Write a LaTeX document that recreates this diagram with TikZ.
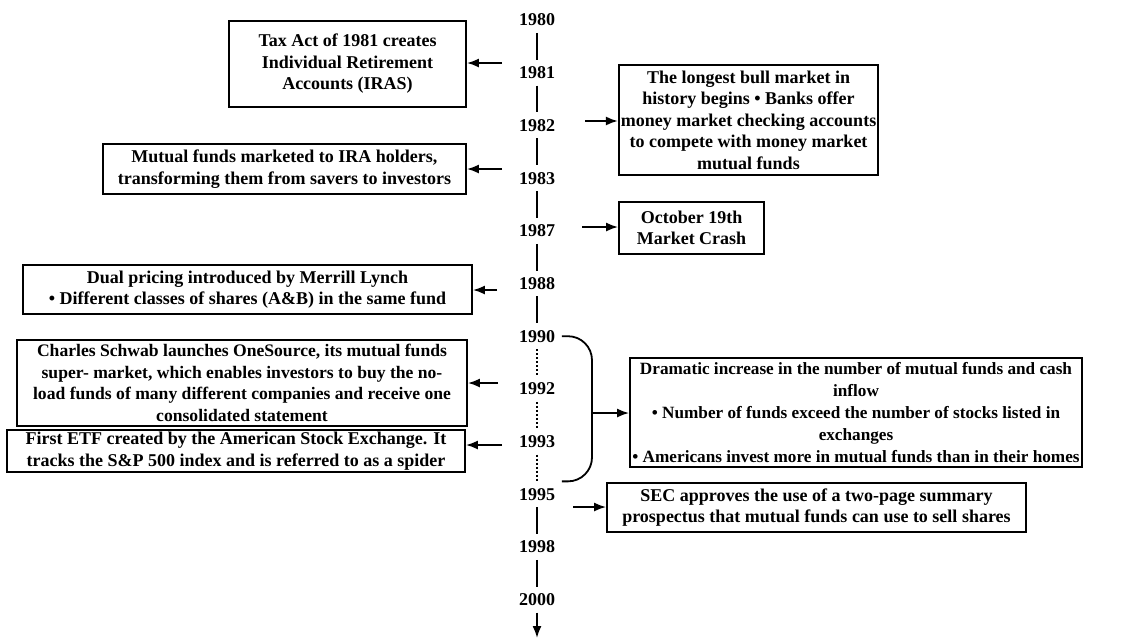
\documentclass[tikz,border=0pt]{standalone}
\usepackage{fontspec}
\setmainfont{Liberation Serif}
\usetikzlibrary{arrows.meta}

\begin{document}
\begin{tikzpicture}[
  x=0.5pt, y=-0.5pt, line width=0.9pt,
  evt/.style={
    draw, rectangle, align=center, inner sep=1pt,
    font=\bfseries\fontsize{9}{10.75}\selectfont
  },
  yr/.style={font=\bfseries\fontsize{9}{10.75}\selectfont, inner sep=3pt},
  arr/.style={-{Latex[length=6pt,width=4.5pt]}},
]
\useasboundingbox (0,0) rectangle (1127,639);

% years
\node[yr] (y1980) at (537,20) {1980};
\node[yr] (y1981) at (537,72.7) {1981};
\node[yr] (y1982) at (537,125.4) {1982};
\node[yr] (y1983) at (537,178.1) {1983};
\node[yr] (y1987) at (537,230.8) {1987};
\node[yr] (y1988) at (537,283.5) {1988};
\node[yr] (y1990) at (537,336.2) {1990};
\node[yr] (y1992) at (537,388.9) {1992};
\node[yr] (y1993) at (537,441.6) {1993};
\node[yr] (y1995) at (537,494.3) {1995};
\node[yr] (y1998) at (537,547) {1998};
\node[yr] (y2000) at (537,599.7) {2000};
\coordinate (tend) at (537,638);

\draw (y1980) -- (y1981) -- (y1982) -- (y1983) -- (y1987) -- (y1988) -- (y1990);
\draw[dash pattern=on 1pt off 1pt] (y1990) -- (y1992) -- (y1993) -- (y1995);
\draw (y1995) -- (y1998) -- (y2000);
\draw[arr] (y2000) -- (tend);

% events, left side
\node[evt, minimum width=118.5pt, minimum height=43pt] (tax) at (347.5,64)
  {Tax Act of 1981 creates\\Individual Retirement\\Accounts (IRAS)};
\node[evt, minimum width=181.5pt, minimum height=25pt] (ira) at (284.5,169)
  {Mutual funds marketed to IRA holders,\\transforming them from savers to investors};
\node[evt, minimum width=224.5pt, minimum height=24.5pt] (dual) at (247.5,289.5)
  {Dual pricing introduced by Merrill Lynch\\\textbullet{} Different classes of shares (A\&B) in the same fund};
\node[evt, minimum width=225pt, minimum height=43pt,
  font=\bfseries\fontsize{8.8}{10.8}\selectfont] (schwab) at (242,383)
  {Charles Schwab launches OneSource, its mutual funds\\super- market, which enables investors to buy the no-\\load funds of many different companies and receive one\\consolidated statement};
\node[evt, minimum width=229pt, minimum height=21pt] (etf) at (236,451)
  {First ETF created by the American Stock Exchange. It\\tracks the S\&P 500 index and is referred to as a spider};

% events, right side
\node[evt, minimum width=129.5pt, minimum height=55pt] (bull) at (748.5,120)
  {The longest bull market in\\history begins \textbullet{} Banks offer\\money market checking accounts\\to compete with money market\\mutual funds};
\node[evt, minimum width=72.5pt, minimum height=26pt] (crash) at (691.5,228)
  {October 19th\\Market Crash};
\node[evt, minimum width=226pt, minimum height=54.5pt,
  font=\bfseries\fontsize{8.6}{11}\selectfont] (boom) at (856,412.5)
  {Dramatic increase in the number of mutual funds and cash\\inflow\\\textbullet{} Number of funds exceed the number of stocks listed in\\exchanges\\\textbullet{} Americans invest more in mutual funds than in their homes};
\node[evt, minimum width=209.5pt, minimum height=24.5pt] (sec) at (816.5,507.5)
  {SEC approves the use of a two-page summary\\prospectus that mutual funds can use to sell shares};

% arrows from the time line
\coordinate (a1981) at (502,63);
\coordinate (a1983) at (502,169);
\coordinate (a1982) at (585,121);
\coordinate (a1987) at (582,227);
\coordinate (a1988) at (497,290);
\coordinate (a1992) at (498,383);
\coordinate (a1993) at (502,445);
\coordinate (a1995) at (573,507);
\coordinate (brc) at (592,413);

\draw[arr] (a1981) -- (a1981 -| tax.east);
\draw[arr] (a1983) -- (a1983 -| ira.east);
\draw[arr] (a1982) -- (a1982 -| bull.west);
\draw[arr] (a1987) -- (a1987 -| crash.west);
\draw[arr] (a1988) -- (a1988 -| dual.east);
\draw[arr] (a1992) -- (a1992 -| schwab.east);
\draw[arr] (a1993) -- (a1993 -| etf.east);
\draw[arr] (a1995) -- (a1995 -| sec.west);

% bracket 1990--1995
\draw[rounded corners=12pt] (y1990.east) -| (brc) |- (y1995.north east);
\draw[arr] (brc) -- (brc -| boom.west);

\end{tikzpicture}
\end{document}
